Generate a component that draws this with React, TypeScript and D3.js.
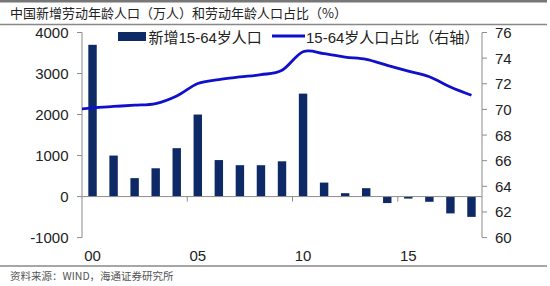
import React from "react";
import * as d3 from "d3";

const years = ["2000","2001","2002","2003","2004","2005","2006","2007","2008","2009","2010","2011","2012","2013","2014","2015","2016","2017","2018"];
const newWorkers = [3700, 1000, 450, 690, 1180, 2000, 890, 765, 765, 860, 2510, 341, 83, 205, -158, -49, -127, -410, -495];
const shareYears = [1999, 2000, 2001, 2002, 2003, 2004, 2005, 2006, 2007, 2008, 2009, 2010, 2011, 2012, 2013, 2014, 2015, 2016, 2017, 2018];
const shareValues = [69.95, 70.12, 70.23, 70.33, 70.46, 71.05, 72.02, 72.33, 72.53, 72.71, 73.05, 74.5, 74.35, 74.08, 73.9, 73.44, 72.99, 72.55, 71.75, 71.1];
const leftTicks = [-1000, 0, 1000, 2000, 3000, 4000];
const rightTicks = [60, 62, 64, 66, 68, 70, 72, 74, 76];
const xLabelYears = ["2000", "2005", "2010", "2015"];
const xTickBoundaries = [2004.5, 2009.5, 2014.5];

const title = "中国新增劳动年龄人口（万人）和劳动年龄人口占比（%）";
const source = "资料来源：WIND，海通证券研究所";
const legendBar = "新增15-64岁人口";
const legendLine = "15-64岁人口占比（右轴）";

const W = 550, H = 286;
const X0 = 82, X1 = 482, YT = 32.5, YB = 237.6;
const FONT = "'Liberation Sans', Arial, 'Noto Sans CJK SC', sans-serif";
const CJK = "'Noto Sans CJK SC', sans-serif";
const AXIS = "#8c8c8c";
const BAR = "#0d2a66";
const LINE = "#1010cc";

export default function App() {
  const x = d3.scaleBand<string>().domain(years).range([X0, X1]).paddingInner(0.6).paddingOuter(0.3);
  const xl = d3.scaleLinear().domain([1999.5, 2018.5]).range([X0, X1]);
  const yL = d3.scaleLinear().domain([-1000, 4000]).range([YB, YT]);
  const yR = d3.scaleLinear().domain([60, 76]).range([YB, YT]);
  const line = d3.line<number>()
    .x((_, i) => xl(shareYears[i]))
    .y((d) => yR(d))
    .curve(d3.curveCatmullRom.alpha(0));
  const y0 = yL(0);

  return (
    <svg width={W} height={H} style={{ position: "absolute", left: 0, top: 0, background: "#fff" }}>
      <defs>
        <clipPath id="plot">
          <rect x={X0} y={0} width={X1 - X0} height={H} />
        </clipPath>
      </defs>
      <rect x={0} y={0} width={W} height={H} fill="#fff" />
      {/* header */}
      <rect x={0} y={0} width={547} height={2.5} fill="#777" />
      <text x={10} y={18} fontFamily={CJK} fontSize={13} fill="#222">{title}</text>
      <line x1={0} x2={547} y1={24.5} y2={24.5} stroke="#888" strokeWidth={1.5} />
      <line x1={0} x2={547} y1={266} y2={266} stroke="#888" strokeWidth={1.5} />
      <text x={10} y={279.5} fontFamily={CJK} fontSize={10.5} fill="#555">{source}</text>

      {/* left axis */}
      <line x1={X0} x2={X0} y1={YT} y2={YB} stroke={AXIS} />
      {leftTicks.map((t) => (
        <g key={t}>
          <line x1={X0 - 5} x2={X0} y1={yL(t)} y2={yL(t)} stroke={AXIS} />
          <text x={68.5} y={yL(t) + 5.5} textAnchor="end" fontFamily={FONT} fontSize={15} fill="#222">{t}</text>
        </g>
      ))}
      {/* right axis */}
      <line x1={X1} x2={X1} y1={YT} y2={YB} stroke={AXIS} />
      {rightTicks.map((t) => (
        <g key={t}>
          <line x1={X1} x2={X1 + 5} y1={yR(t)} y2={yR(t)} stroke={AXIS} />
          <text x={495} y={yR(t) + 5.5} fontFamily={FONT} fontSize={15} fill="#222">{t}</text>
        </g>
      ))}

      {/* bars */}
      {years.map((yr, i) => {
        const v = newWorkers[i];
        return (
          <rect key={yr} x={x(yr)} width={x.bandwidth()} y={Math.min(yL(v), y0)} height={Math.abs(yL(v) - y0)} fill={BAR} />
        );
      })}
      {/* zero line */}
      <line x1={X0} x2={X1} y1={y0} y2={y0} stroke={AXIS} />
      {xTickBoundaries.map((b) => (
        <line key={b} x1={xl(b)} x2={xl(b)} y1={y0} y2={y0 + 5} stroke={AXIS} />
      ))}
      {xLabelYears.map((yr) => (
        <text key={yr} x={(x(yr) as number) + x.bandwidth() / 2} y={261} textAnchor="middle" fontFamily={FONT} fontSize={15} fill="#222">{yr.slice(2)}</text>
      ))}

      {/* line */}
      <path d={line(shareValues) || ""} fill="none" stroke={LINE} strokeWidth={2.8} clipPath="url(#plot)" />

      {/* legend */}
      <rect x={118} y={32} width={28} height={9} fill={BAR} />
      <text x={148.5} y={42.5} fontFamily={FONT} fontSize={15} fill="#222">{legendBar}</text>
      <line x1={272} x2={305} y1={36} y2={36} stroke={LINE} strokeWidth={3} />
      <text x={306} y={42.5} fontFamily={FONT} fontSize={15} fill="#222">{legendLine}</text>
    </svg>
  );
}
